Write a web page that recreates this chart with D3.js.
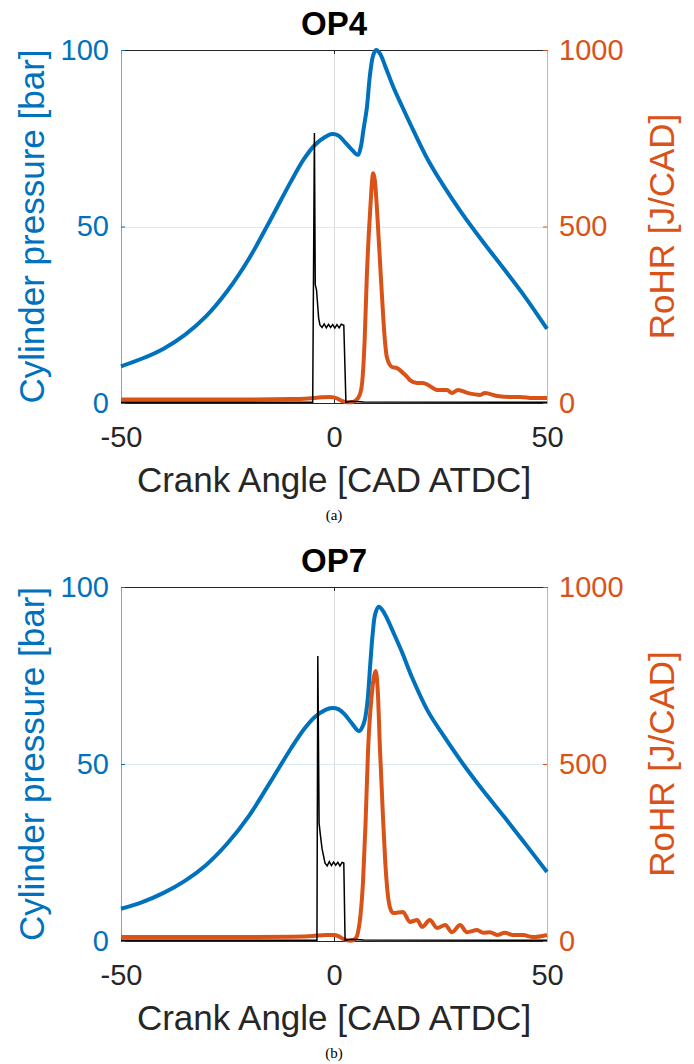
<!DOCTYPE html>
<html><head><meta charset="utf-8">
<script src="https://cdn.jsdelivr.net/npm/d3@7"></script>
<style>body{margin:0;background:#fff}svg{display:block}</style></head>
<body>
<script>
// ---------- data ----------
const xTicks = [-50, 0, 50];
const pressureTicks = [0, 50, 100];
const rohrTicks = [0, 500, 1000];
const titles = ["OP4", "OP7"];
const captions = ["(a)", "(b)"];

// OP4 cylinder pressure [bar]
const op4PressCad = [-50,-45,-40,-35,-30,-25,-20,-15,-10,-7,-4.5,-2,-0.5,1,2.5,4,5.6,6.3,6.9,7.7,8.45,9.2,9.9,10.8,12,13.9,16,18.6,22,26,30,35,40,45,50];
const op4Press    = [10.4,12.6,15.4,19.3,24.6,31.8,40.8,51.7,63,69.2,73.1,75.4,76.2,75.8,74,72,70.3,72.6,77.3,83.5,93,98.5,100,99,95.5,89.6,84,77.3,69,61,53.8,45.6,37.8,29.8,21];
// OP4 RoHR [J/CAD]
const op4RohrCad = [-50,-40,-30,-20,-10,-6,-3,-1,0,1,2,3,4,5,6,6.6,7.2,7.7,8.5,9.2,9.6,10.1,11,12,12.4,13.6,14.8,16.2,17.4,17.8,19.5,20.9,22.1,24.2,26.5,27.7,29.1,31.5,34.3,35.4,38.3,41.3,43.7,46.7,50];
const op4Rohr    = [10,10,10,10,11,13,16,17,16,11,5,2,2,6,22,57,180,357,547,651,630,547,357,170,130,102,99,85,71,65,57,57,51,37,37,28,37,28,23,28,20,17,17,14,14];
// OP4 injection signal (right axis scale)
const op4InjCad = [-50,-5.0,-4.6,-4.4,-4.1,-3.6,-3.3,-2.8,-2.3,-1.8,-1.3,-0.8,-0.3,0.2,0.7,1.2,1.7,2.3,2.8,4,7,50];
const op4Inj    = [2,2,765,335,320,240,221,214,224,213,223,214,222,212,222,213,223,220,2,5,3,2];

// OP7 cylinder pressure [bar]
const op7PressCad = [-50,-45,-40,-35,-30,-25,-20,-15,-10,-7,-4.5,-2,-0.5,1,2.5,4,5.9,7,7.8,8.5,9.1,9.7,10.5,11.3,12.5,14,16,18.3,22,26,30,35,40,45,50];
const op7Press    = [9.1,11,13.6,17,21.5,27.6,35.3,44.8,54.6,59.9,63.3,65.3,65.8,65.5,64,61.8,59.3,61.5,67,78,87,92.5,94.4,93.6,91,87,81.5,74.5,65,57.5,50.5,42.5,35,27.3,19.5];
// OP7 RoHR [J/CAD]
const op7RohrCad = [-50,-40,-30,-20,-10,-5,-2,0,1,2,3,4,5,5.6,6.2,6.8,7.4,8,8.9,9.8,10.3,10.8,11.5,12,12.7,13.1,13.9,16.2,17.8,19.5,20.7,22.5,24.2,26.1,27.7,29.6,31.2,33.6,35,36.6,38.3,40.1,42,44.4,46.7,50];
const op7Rohr    = [11,11,11,11,12,14,17,17,14,7,2,1,6,23,70,164,330,540,700,763,700,540,350,230,124,96,79,82,54,59,40,59,37,45,25,45,25,31,23,25,17,23,17,17,11,17];
// OP7 injection signal (right axis scale)
const op7InjCad = [-50,-4.0,-3.8,-3.5,-3.2,-2.8,-2.1,-1.6,-1.1,-0.6,-0.1,0.4,0.9,1.4,1.9,2.3,2.6,4,7,50];
const op7Inj    = [2,2,805,333,300,260,220,212,224,213,223,214,222,212,222,220,2,5,3,2];

// ---------- drawing ----------
const BLUE = "#0072BD", ORANGE = "#D95319", DARK = "#262626";
const FONT = "'Liberation Sans', Arial, Helvetica, sans-serif";
const svg = d3.select("body").append("svg").attr("width", 694).attr("height", 1064);

const layouts = [{top: 50, bottom: 403}, {top: 587, bottom: 941}];
const seriesSets = [
  {pc: op4PressCad, p: op4Press, rc: op4RohrCad, r: op4Rohr, ic: op4InjCad, i: op4Inj},
  {pc: op7PressCad, p: op7Press, rc: op7RohrCad, r: op7Rohr, ic: op7InjCad, i: op7Inj}
];
const L = 121, R = 547, CX = (L + R) / 2;

layouts.forEach((lay, k) => {
  const s = seriesSets[k];
  const g = svg.append("g");
  const x = d3.scaleLinear().domain([-50, 50]).range([L, R]);
  const yP = d3.scaleLinear().domain([0, 100]).range([lay.bottom, lay.top]);
  const yR = d3.scaleLinear().domain([0, 1000]).range([lay.bottom, lay.top]);

  // grid
  g.selectAll(".vg").data(xTicks.filter(d => d > -50 && d < 50)).join("line")
    .attr("x1", d => Math.round(x(d)) + 0.5).attr("x2", d => Math.round(x(d)) + 0.5)
    .attr("y1", lay.top).attr("y2", lay.bottom).attr("stroke", "#dcdcdc").attr("stroke-width", 1);
  g.selectAll(".hg").data(pressureTicks.filter(d => d > 0 && d < 100)).join("line")
    .attr("x1", L).attr("x2", R)
    .attr("y1", d => Math.round(yP(d)) + 0.5).attr("y2", d => Math.round(yP(d)) + 0.5)
    .attr("stroke", "#d9eaf5").attr("stroke-width", 1);

  // axes
  const styleAxis = (sel, color, size) => {
    sel.selectAll("path.domain").attr("stroke", color).attr("stroke-width", 1);
    sel.selectAll(".tick line").attr("stroke", color);
    sel.selectAll("text").attr("fill", color).style("font-family", FONT).style("font-size", size + "px");
  };
  const bottomAx = g.append("g").attr("transform", `translate(0,${lay.bottom})`)
    .call(d3.axisBottom(x).tickValues(xTicks).tickFormat(d => String(d)).tickSizeInner(-4).tickSizeOuter(0).tickPadding(23));
  styleAxis(bottomAx, DARK, 29);
  const topAx = g.append("g").attr("transform", `translate(0,${lay.top})`)
    .call(d3.axisTop(x).tickValues(xTicks).tickFormat("").tickSizeInner(-4).tickSizeOuter(0));
  styleAxis(topAx, DARK, 29);
  const leftAx = g.append("g").attr("transform", `translate(${L},0)`)
    .call(d3.axisLeft(yP).tickValues(pressureTicks).tickFormat(d => String(d)).tickSizeInner(-4).tickSizeOuter(0).tickPadding(12));
  styleAxis(leftAx, BLUE, 29);
  const rightAx = g.append("g").attr("transform", `translate(${R},0)`)
    .call(d3.axisRight(yR).tickValues(rohrTicks).tickFormat(d => String(d)).tickSizeInner(-4).tickSizeOuter(0).tickPadding(12));
  styleAxis(rightAx, ORANGE, 29);
  rightAx.select("path.domain").attr("stroke", "#eda98a");
  leftAx.select("path.domain").attr("stroke", "#6fa9d8");

  // lines
  const pLine = d3.line().x((d, i) => x(s.pc[i])).y(d => yP(d)).curve(d3.curveCatmullRom.alpha(0.5));
  const rLine = d3.line().x((d, i) => x(s.rc[i])).y(d => yR(d)).curve(d3.curveMonotoneX);
  const iLine = d3.line().x((d, i) => x(s.ic[i])).y(d => yR(d));
  g.append("path").attr("d", pLine(s.p)).attr("fill", "none").attr("stroke", BLUE)
    .attr("stroke-width", 4).attr("stroke-linejoin", "round");
  g.append("path").attr("d", rLine(s.r)).attr("fill", "none").attr("stroke", ORANGE)
    .attr("stroke-width", 4).attr("stroke-linejoin", "round");
  g.append("path").attr("d", iLine(s.i)).attr("fill", "none").attr("stroke", "#000")
    .attr("stroke-width", 1.5).attr("stroke-linejoin", "miter");

  // texts
  g.append("text").attr("x", CX).attr("y", lay.top - 15).attr("text-anchor", "middle")
    .style("font-family", FONT).style("font-size", "33px").style("font-weight", "bold").attr("fill", "#000")
    .text(titles[k]);
  g.append("text").attr("x", CX).attr("y", lay.bottom + 89).attr("text-anchor", "middle")
    .style("font-family", FONT).style("font-size", "35px").attr("fill", DARK)
    .text("Crank Angle [CAD ATDC]");
  const my = (lay.top + lay.bottom) / 2;
  g.append("text").attr("transform", `translate(44,${my}) rotate(-90)`).attr("text-anchor", "middle")
    .style("font-family", FONT).style("font-size", "35px").attr("fill", BLUE)
    .text("Cylinder pressure [bar]");
  g.append("text").attr("transform", `translate(674,${my}) rotate(-90)`).attr("text-anchor", "middle")
    .style("font-family", FONT).style("font-size", "35px").attr("fill", ORANGE)
    .text("RoHR [J/CAD]");
  g.append("text").attr("x", CX).attr("y", lay.bottom + 117).attr("text-anchor", "middle")
    .style("font-family", "'Liberation Serif', 'Times New Roman', serif").style("font-size", "15px").attr("fill", "#000")
    .text(captions[k]);
});
</script>
</body></html>
